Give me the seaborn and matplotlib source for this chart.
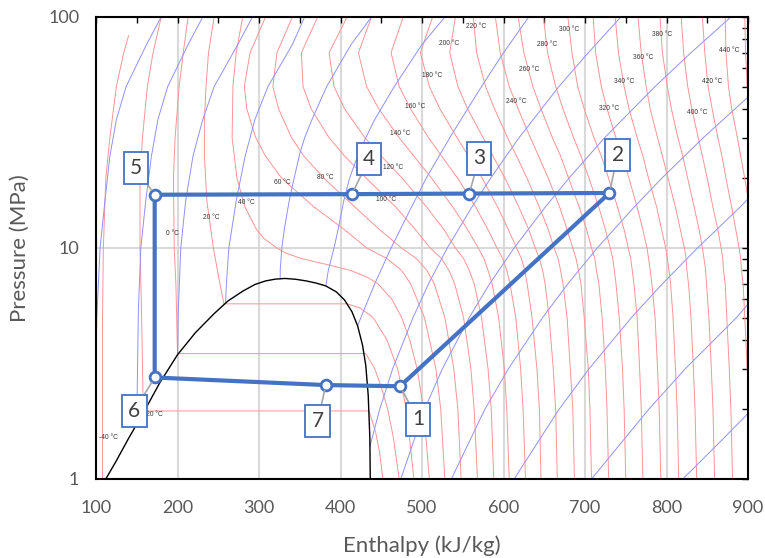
import matplotlib
matplotlib.use("Agg")
import matplotlib.pyplot as plt
import pandas as pd
import seaborn as sns

# CO2 p-h chart, transcritical cycle. enthalpy in kJ/kg, pressure in MPa

# saturation dome
dome_h = [112, 125, 140, 158, 178, 200, 222, 245, 262, 280, 295, 308, 320, 332,
          345, 358, 370, 382, 395, 405, 414, 421, 427, 431, 434, 436, 436.5]
dome_p = [1.0, 1.2, 1.5, 1.93, 2.6, 3.45, 4.3, 5.2, 5.9, 6.5, 6.95, 7.2, 7.33, 7.38,
          7.32, 7.2, 7.05, 6.85, 6.45, 5.95, 5.3, 4.6, 3.8, 3.1, 2.3, 1.5, 1.0]

# isotherms below / near the critical point (own pressure points)
t_m40_p = [1.005, 2, 5, 10, 20, 30, 50, 70, 83]
t_m40_h = [108, 108, 108, 109, 112, 117, 125, 134, 140]
t_m20_p = [1.0, 1.3, 1.6, 1.97, 1.97, 5, 10, 20, 30, 50, 70, 100]
t_m20_h = [452, 448, 443, 435, 158, 156, 154, 154, 157, 163, 170, 180]
t_000_p = [1, 1.5, 2, 2.5, 3, 3.49, 3.49, 5, 7, 10, 20, 30, 50, 70, 100]
t_000_h = [472, 465, 458, 450, 442, 431, 200, 199, 198, 196, 195, 197, 202, 207, 213]
t_020_p = [1, 2, 3, 4, 5, 5.5, 5.73, 5.73, 7, 10, 16, 25, 36, 50, 70, 100]
t_020_h = [490, 481, 470, 457, 440, 424, 408, 257, 252, 244, 236, 233, 233, 235, 238, 245]
t_040_p = [1, 2, 3, 4, 5, 6, 7, 7.5, 8, 8.5, 9, 9.5, 10, 11, 12, 15, 20, 30, 50, 70, 100]
t_040_h = [509, 502, 494, 485, 475, 463, 446, 432, 412, 382, 352, 333, 322, 306, 297,
           283, 273, 267, 268, 272, 280]

# supercritical isotherms, all on the same pressure points
p_grid = [1, 2, 3, 5, 7, 8, 9, 10, 12, 15, 20, 25, 30, 40, 50, 70, 100]
t_060_h = [528, 523, 517, 503, 486, 475, 457, 432, 405, 368, 328, 308, 296, 285, 282, 289, 308]
t_080_h = [548, 544, 539, 528, 515, 506, 493, 475, 448, 418, 380, 355, 340, 324, 317, 322, 341]
t_100_h = [568, 564, 560, 551, 540, 533, 524, 510, 492, 468, 432, 405, 386, 364, 354, 352, 372]
t_120_h = [588, 585, 581, 573, 564, 558, 551, 541, 527, 506, 476, 450, 430, 405, 392, 386, 408]
t_140_h = [607, 604, 601, 594, 586, 581, 576, 569, 556, 538, 512, 490, 472, 447, 432, 422, 438]
t_160_h = [627, 624, 621, 615, 608, 604, 599, 592, 581, 566, 544, 524, 508, 486, 472, 462, 477]
t_180_h = [646, 644, 641, 635, 629, 626, 622, 616, 606, 593, 574, 557, 543, 522, 509, 498, 513]
t_200_h = [666, 664, 661, 656, 651, 648, 644, 639, 631, 619, 602, 587, 575, 556, 544, 534, 541]
t_220_h = [687, 685, 682, 678, 673, 670, 667, 662, 655, 644, 629, 616, 605, 589, 578, 567, 563]
t_240_h = [708, 706, 704, 699, 695, 692, 689, 685, 678, 669, 655, 643, 633, 618, 607, 596, 590]
t_260_h = [729, 727, 725, 721, 717, 714, 712, 708, 702, 693, 680, 670, 660, 646, 636, 625, 618]
t_280_h = [750, 748, 746, 742, 738, 736, 734, 731, 725, 717, 705, 695, 686, 673, 664, 654, 649]
t_300_h = [771, 769, 767, 764, 760, 758, 756, 753, 748, 740, 729, 720, 711, 699, 691, 684, 679]
t_320_h = [793, 791, 789, 786, 782, 780, 778, 776, 771, 764, 754, 746, 738, 727, 720, 713, 710]
t_340_h = [815, 813, 811, 808, 805, 803, 801, 799, 794, 788, 778, 771, 764, 754, 748, 741, 737]
t_360_h = [837, 835, 833, 830, 827, 825, 824, 822, 817, 811, 802, 795, 789, 780, 775, 769, 765]
t_380_h = [859, 857, 855, 852, 849, 848, 846, 844, 840, 834, 826, 820, 814, 806, 801, 795, 792]
t_400_h = [881, 879, 877, 874, 872, 870, 869, 867, 863, 857, 850, 844, 839, 831, 826, 821, 818]
t_420_h = [903, 901, 899, 896, 894, 892, 891, 889, 885, 880, 873, 868, 863, 856, 851, 847, 844]
t_440_h = [925, 923, 921, 918, 916, 914, 913, 911, 907, 902, 896, 891, 887, 880, 876, 873, 872]
t_460_h = [947, 945, 943, 940, 938, 936, 935, 933, 929, 924, 918, 913, 909, 903, 899, 897, 896]

# isentropes (0.2 kJ/kgK apart)
s01_p = [1, 5, 10, 16, 25, 36, 50, 76, 100]
s01_h = [97, 101, 105, 111, 117, 125, 137, 162, 180]
s02_p = [1.8, 5.4, 10, 16, 25, 36, 50, 76, 100]
s02_h = [150, 152, 155, 161, 168, 176, 188, 213, 231]
s03_p = [3.45, 5.4, 10, 16, 25, 36, 50, 76, 100]
s03_h = [200, 201, 204, 210, 219, 231, 245, 274, 292]
s04_p = [5.85, 7, 10, 16, 25, 36, 50, 76, 100]
s04_h = [259, 260, 263, 272, 283, 295, 311, 341, 356]
s05_p = [7.35, 8, 10, 12, 16, 20, 25.6, 30, 36, 50, 76, 100]
s05_h = [326, 326, 328, 331, 337, 343, 350, 356, 365, 383, 413, 438]
s06_p = [6.85, 8, 10, 12, 16, 20, 25, 30, 36, 50, 76, 100]
s06_h = [382, 385, 392, 397, 404, 411, 421, 431, 442, 466, 500, 528]
s07_p = [4.6, 5, 7, 10, 15, 20, 30, 50, 70, 100]
s07_h = [421, 425, 442, 462, 487, 505, 534, 573, 600, 631]
s08_p = [1.38, 2, 3, 5, 7, 10, 15, 20, 30, 50, 70, 100]
s08_h = [436, 448, 464, 489, 508, 531, 561, 584, 619, 668, 704, 744]
s09_p = [1, 2, 3, 5, 7, 10, 15, 20, 30, 50, 70, 100]
s09_h = [474, 503, 525, 558, 583, 613, 651, 680, 724, 786, 830, 879]
s10_p = [1, 2, 3, 5, 7, 10, 15, 20, 30, 45, 50]
s10_h = [536, 577, 606, 648, 679, 715, 760, 794, 845, 900, 915]
s11_p = [1, 2, 3, 5, 7, 10, 15, 17]
s11_h = [613, 668, 705, 757, 795, 838, 890, 905]
s12_p = [1, 2, 3, 5, 6]
s12_h = [708, 778, 823, 886, 905]
s13_p = [1, 1.5, 2]
s13_h = [820, 870, 905]

# isotherm labels
lab_t = [-40, -20, 0, 20, 40, 60, 80, 100, 120, 140, 160, 180, 200, 220, 240, 260,
         280, 300, 320, 340, 360, 380, 400, 420, 440]
lab_h = [115, 171, 194, 241, 285, 328, 381, 456, 464, 473, 492, 512, 533, 566, 615, 632,
         653, 681, 729, 748, 771, 794, 837, 856, 877]
lab_p = [1.51, 1.91, 11.5, 13.6, 15.8, 19.3, 20.2, 16.2, 22.4, 31.4, 40.8, 55.7, 76.5,
         90.8, 42.9, 59.2, 76.0, 88.0, 40.0, 52.7, 66.8, 83.8, 38.5, 52.7, 71.6]

# cycle state points 1..7
cyc_name = ['1', '2', '3', '4', '5', '6', '7']
cyc_h = [473, 730, 558, 414, 172, 172, 382]
cyc_p = [2.52, 17.3, 17.2, 17.1, 17.0, 2.75, 2.55]
box_h = [495, 740, 570, 435, 149, 147, 372]
box_p = [1.81, 25.3, 24.4, 24.3, 22.2, 1.97, 1.78]


def long_table(curves):
    rows = []
    for name, hs, ps in curves:
        for h, p in zip(hs, ps):
            rows.append((name, h, p))
    return pd.DataFrame(rows, columns=['curve', 'h', 'p'])


iso_curves = [('-40', t_m40_h, t_m40_p), ('-20', t_m20_h, t_m20_p),
              ('0', t_000_h, t_000_p), ('20', t_020_h, t_020_p), ('40', t_040_h, t_040_p)]
for T, hs in [(60, t_060_h), (80, t_080_h), (100, t_100_h), (120, t_120_h), (140, t_140_h),
              (160, t_160_h), (180, t_180_h), (200, t_200_h), (220, t_220_h), (240, t_240_h),
              (260, t_260_h), (280, t_280_h), (300, t_300_h), (320, t_320_h), (340, t_340_h),
              (360, t_360_h), (380, t_380_h), (400, t_400_h), (420, t_420_h), (440, t_440_h),
              (460, t_460_h)]:
    iso_curves.append((str(T), hs, p_grid))
df_t = long_table(iso_curves)

df_s = long_table([('s01', s01_h, s01_p), ('s02', s02_h, s02_p), ('s03', s03_h, s03_p),
                   ('s04', s04_h, s04_p), ('s05', s05_h, s05_p), ('s06', s06_h, s06_p),
                   ('s07', s07_h, s07_p), ('s08', s08_h, s08_p), ('s09', s09_h, s09_p),
                   ('s10', s10_h, s10_p), ('s11', s11_h, s11_p), ('s12', s12_h, s12_p),
                   ('s13', s13_h, s13_p)])

df_dome = pd.DataFrame({'h': dome_h, 'p': dome_p})
loop = list(range(len(cyc_h))) + [0]
df_cyc = pd.DataFrame({'h': [cyc_h[i] for i in loop], 'p': [cyc_p[i] for i in loop]})

sns.set_theme(style='white')
plt.rcParams['font.family'] = ['Lato', 'DejaVu Sans']

fig = plt.figure(figsize=(7.65, 5.58), dpi=100)
ax = fig.add_axes([0.1255, 0.1416, 0.8523, 0.828])
ax.set_yscale('log')

sns.lineplot(data=df_t, x='h', y='p', units='curve', estimator=None, sort=False,
             color='#ff9494', linewidth=0.7, ax=ax, legend=False, zorder=2)
sns.lineplot(data=df_s, x='h', y='p', units='curve', estimator=None, sort=False,
             color='#9090ff', linewidth=0.7, ax=ax, legend=False, zorder=2)
sns.lineplot(data=df_dome, x='h', y='p', estimator=None, sort=False,
             color='black', linewidth=1.0, ax=ax, zorder=3)

for T, h, p in zip(lab_t, lab_h, lab_p):
    ax.text(h, p, f'{T} °C', fontsize=4.8, color='#333333', ha='center', va='center',
            family=['Liberation Sans', 'DejaVu Sans'], zorder=4)

sns.lineplot(data=df_cyc, x='h', y='p', estimator=None, sort=False,
             color='#4472C4', linewidth=3, ax=ax, zorder=5)
sns.scatterplot(x=cyc_h, y=cyc_p, s=60, facecolor='white', edgecolor='#4472C4',
                linewidth=2, ax=ax, zorder=6)

for name, h, p, bh, bp in zip(cyc_name, cyc_h, cyc_p, box_h, box_p):
    ax.annotate(name, xy=(h, p), xytext=(bh, bp), textcoords='data',
                ha='center', va='center', fontsize=15, color='#404040',
                bbox=dict(boxstyle='square,pad=0.3', fc='white', ec='#4472C4', lw=1.3),
                arrowprops=dict(arrowstyle='-', color='#a6a6a6', lw=1.2,
                                shrinkA=0, shrinkB=4),
                zorder=7)

ax.set_xlim(100, 900)
ax.set_ylim(1, 100)
ax.set_xticks(range(100, 901, 100))
ax.set_xticks(range(150, 900, 100), minor=True)
ax.set_yticks([1, 10, 100])
ax.set_yticklabels(['1', '10', '100'])
ax.set_yticks([2, 3, 4, 5, 6, 7, 8, 9, 20, 30, 40, 50, 60, 70, 80, 90], minor=True)
ax.yaxis.set_minor_formatter(plt.NullFormatter())
ax.tick_params(which='both', direction='in', top=True, right=True, length=4, width=1,
               color='black', labelsize=13, labelcolor='#595959', pad=12)
ax.tick_params(axis='x', pad=15)
ax.grid(axis='both', which='major', color='#d9d9d9', linewidth=1.5)
ax.set_axisbelow(True)
for sp in ax.spines.values():
    sp.set_color('black')
    sp.set_linewidth(1.5)

ax.set_xlabel('Enthalpy (kJ/kg)', fontsize=16, color='#595959', labelpad=14)
ax.set_ylabel('Pressure (MPa)', fontsize=16, color='#595959', labelpad=13)

fig.savefig('out.png', dpi=100)
